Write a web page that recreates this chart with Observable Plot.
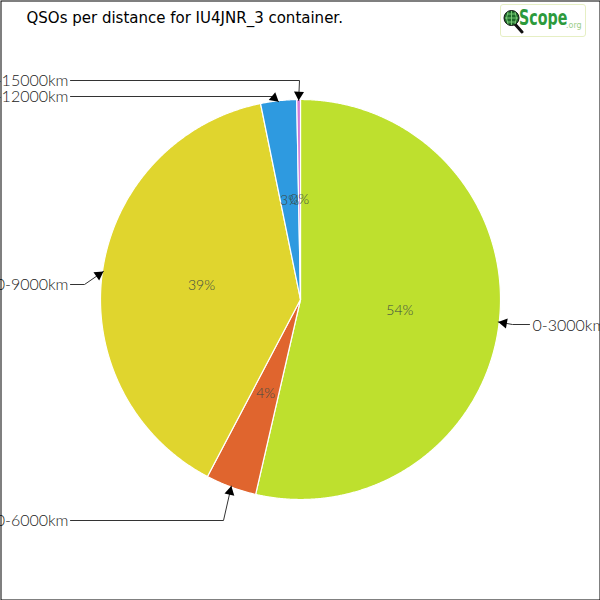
<!DOCTYPE html>
<html>
<head>
<meta charset="utf-8">
<script src="https://cdn.jsdelivr.net/npm/d3@7"></script>
<script src="https://cdn.jsdelivr.net/npm/@observablehq/plot@0.6"></script>
<style>
  html, body { margin: 0; padding: 0; background: white; }
  #wrap { position: relative; width: 600px; height: 600px; }
  #logo { position: absolute; left: 500px; top: 4px; width: 86px; height: 33px; border: 1px solid #e6efc4; border-radius: 3px; background: white; box-sizing: border-box; overflow: hidden; }
  #logo svg { position: absolute; left: 2px; top: 3px; }
  #logo .t { position: absolute; left: 18px; top: 0px; font-family: "DejaVu Sans Condensed", "DejaVu Sans", sans-serif; font-weight: bold; font-size: 22px; color: #2c9a3c; transform: scaleX(0.72); transform-origin: left top; }
  #logo .o { position: absolute; left: 65px; top: 16px; font-family: "DejaVu Sans", sans-serif; font-size: 8px; color: #9acd8a; }
</style>
</head>
<body>
<div id="wrap">
  <div id="chart"></div>
  <div id="logo">
    <svg width="22" height="26" viewBox="0 0 22 26">
      <line x1="11" y1="15" x2="19" y2="24" stroke="#111" stroke-width="3" stroke-linecap="round"/>
      <circle cx="8.5" cy="10" r="7.5" fill="#1f6b2a" stroke="#111" stroke-width="1"/>
      <path d="M2 10 H15 M8.5 3 V17 M4 6 H13 M4 14 H13 M5 4 Q2 10 5 16 M12 4 Q15 10 12 16" stroke="#7fd07a" stroke-width="0.9" fill="none"/>
    </svg>
    <span class="t">Scope</span><span class="o">.org</span>
  </div>
</div>
<script>
// ---- data ----
const categories = ["0-3000km", "3000-6000km", "6000-9000km", "9000-12000km", "12000-15000km"];
const counts = [536, 41, 391, 29, 3];
const colors = ["#bee02e", "#e0652e", "#e0d52e", "#2e9ae0", "#d37ad8"];
const title = "QSOs per distance for IU4JNR_3 container.";

// ---- layout ----
const cx = 300, cy = 299, R = 200;
const labelFont = "Lato, 'DejaVu Sans', sans-serif";
// leader waypoints (before the arrow tip) and label anchors, per category
const leaders = [
  {pts: [[529, 324], [512, 324]], tx: 532, ty: 325, anchor: "start"},
  {pts: [[70, 520], [223, 520]], tx: 68, ty: 520, anchor: "end"},
  {pts: [[70, 284], [84, 284]], tx: 68, ty: 284, anchor: "end"},
  {pts: [[70, 96], [272, 96]], tx: 68, ty: 96, anchor: "end"},
  {pts: [[70, 80], [299, 80]], tx: 68, ty: 80, anchor: "end"}
];

const total = d3.sum(counts);
let cum = 0;
const slices = categories.map((c, i) => {
  const a0 = 2 * Math.PI * cum / total;
  cum += counts[i];
  const a1 = 2 * Math.PI * cum / total;
  return {cat: c, i, a0, a1, mid: (a0 + a1) / 2, pct: Math.round(100 * counts[i] / total) + "%"};
});
const px = (a, r) => cx + r * Math.sin(a);
const py = (a, r) => cy - r * Math.cos(a);

function slicePoints(s) {
  const pts = [{x: cx, y: cy}];
  const n = Math.max(2, Math.ceil((s.a1 - s.a0) / (Math.PI / 720)));
  for (let k = 0; k <= n; k++) {
    const a = s.a0 + (s.a1 - s.a0) * k / n;
    pts.push({x: px(a, R), y: py(a, R)});
  }
  pts.push({x: cx, y: cy});
  return pts;
}

const leaderLines = [];
const arrows = [];
const extLabels = [];
slices.forEach((s, i) => {
  const L = leaders[i];
  const tip = [px(s.mid, R - 1), py(s.mid, R - 1)];
  const all = [...L.pts, tip];
  all.forEach(p => leaderLines.push({cat: s.cat, x: p[0], y: p[1]}));
  const prev = L.pts[L.pts.length - 1];
  const dx = tip[0] - prev[0], dy = tip[1] - prev[1];
  const len = Math.hypot(dx, dy);
  const sr = 4.8, sOff = Math.sqrt(Math.PI * sr * sr) * 0.6824;
  arrows.push({x: tip[0] - dx / len * sOff, y: tip[1] - dy / len * sOff, rot: Math.atan2(dx, -dy) * 180 / Math.PI});
  extLabels.push({x: L.tx, y: L.ty, text: s.cat, anchor: L.anchor});
});

const sliceMarks = slices.map(s =>
  Plot.line(slicePoints(s), {x: "x", y: "y", fill: colors[s.i], stroke: "white", strokeWidth: 1.2, strokeLinejoin: "round"})
);

const chart = Plot.plot({
  width: 600,
  height: 600,
  margin: 0,
  x: {domain: [0, 600], range: [0, 600], axis: null},
  y: {domain: [0, 600], range: [0, 600], axis: null},
  style: {background: "white", overflow: "hidden"},
  marks: [
    ...sliceMarks,
    Plot.text(slices, {x: d => px(d.mid, R * 0.5), y: d => py(d.mid, R * 0.5), text: "pct",
      fill: "#3a4a44", fontSize: 14, fontFamily: labelFont, fontWeight: 300}),
    Plot.line(leaderLines, {x: "x", y: "y", z: "cat", stroke: "#333", strokeWidth: 1}),
    Plot.dot(arrows, {x: "x", y: "y", rotate: "rot", symbol: "triangle2", r: 4.8, fill: "black", stroke: "none"}),
    Plot.text(extLabels.filter(d => d.anchor === "end"), {x: "x", y: "y", text: "text", textAnchor: "end",
      fill: "#222", fontSize: 16, fontFamily: labelFont, fontWeight: 300}),
    Plot.text(extLabels.filter(d => d.anchor === "start"), {x: "x", y: "y", text: "text", textAnchor: "start",
      fill: "#222", fontSize: 16, fontFamily: labelFont, fontWeight: 300}),
    Plot.text([title], {frameAnchor: "top-left", dx: 26, dy: 12, text: d => d, fill: "black",
      fontSize: 15, fontFamily: "'DejaVu Sans', sans-serif", lineAnchor: "top"}),
    Plot.frame({stroke: "black", strokeWidth: 1, inset: 0.5})
  ]
});
document.getElementById("chart").appendChild(chart);
</script>
</body>
</html>
